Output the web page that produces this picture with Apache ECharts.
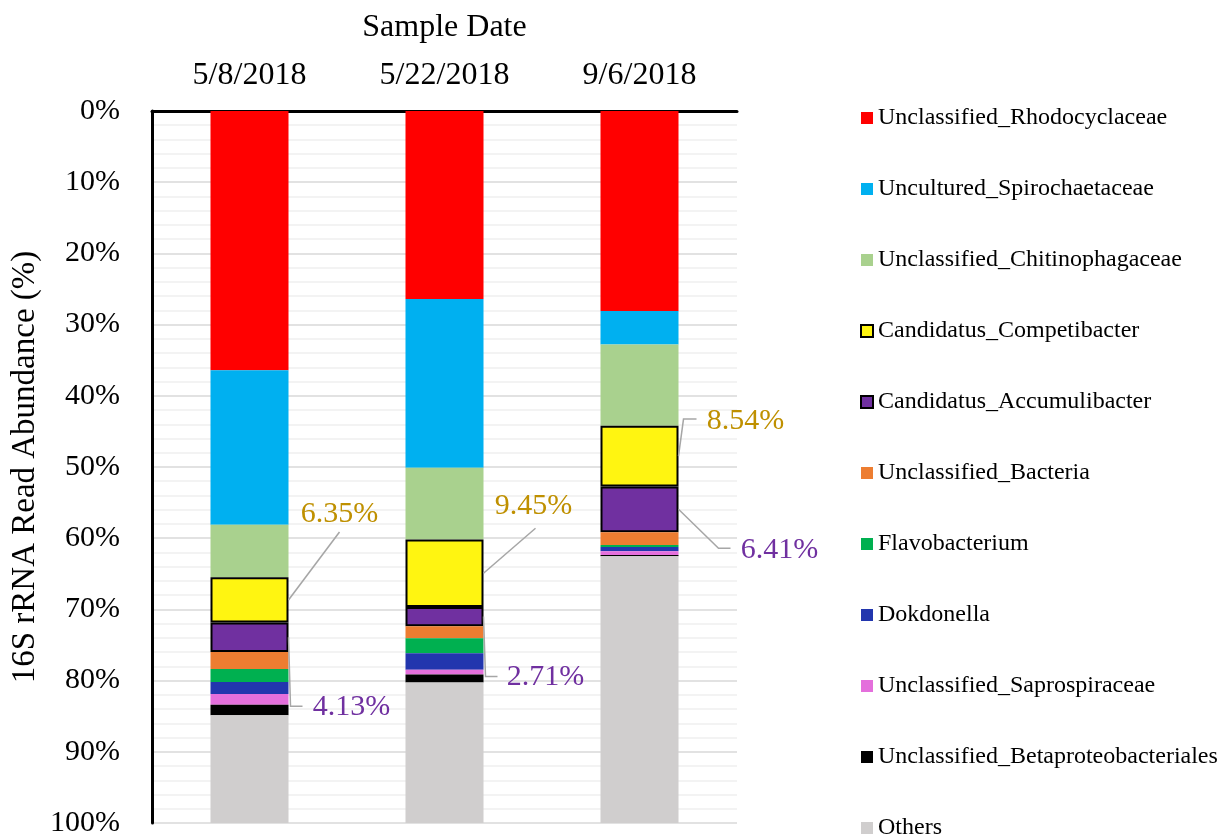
<!DOCTYPE html>
<html>
<head>
<meta charset="utf-8">
<script src="https://cdn.jsdelivr.net/npm/echarts@6/dist/echarts.min.js"></script>
<style>
  html, body { margin: 0; padding: 0; background: #fff; }
  #chart { width: 1226px; height: 839px; }
</style>
</head>
<body>
<div id="chart"></div>
<script>
const dates = ['5/8/2018', '5/22/2018', '9/6/2018'];

const taxa = [
  'Unclassified_Rhodocyclaceae',
  'Uncultured_Spirochaetaceae',
  'Unclassified_Chitinophagaceae',
  'Candidatus_Competibacter',
  'Candidatus_Accumulibacter',
  'Unclassified_Bacteria',
  'Flavobacterium',
  'Dokdonella',
  'Unclassified_Saprospiraceae',
  'Unclassified_Betaproteobacteriales',
  'Others'
];

// abundance (%) per taxon, one value per sample date
const rhodocyclaceae = [36.4, 26.4, 28.1];
const spirochaetaceae = [21.7, 23.7, 4.7];
const chitinophagaceae = [7.4, 10.1, 11.4];
const competibacter = [6.35, 9.45, 8.54];
const accumulibacter = [4.13, 2.71, 6.41];
const bacteria = [2.4, 1.7, 1.8];
const flavobacterium = [1.8, 2.1, 0.3];
const dokdonella = [1.7, 2.3, 0.6];
const saprospiraceae = [1.5, 0.7, 0.5];
const betaproteobacteriales = [1.5, 1.1, 0.2];
const others = [15.12, 19.74, 37.45];

const values = [rhodocyclaceae, spirochaetaceae, chitinophagaceae, competibacter,
  accumulibacter, bacteria, flavobacterium, dokdonella, saprospiraceae,
  betaproteobacteriales, others];

const colors = ['#FF0000', '#00B0F0', '#A9D18E', '#FFF511', '#7030A0', '#ED7D31',
  '#00B050', '#2236AE', '#E46FDC', '#000000', '#D0CECE'];

const serif = 'Liberation Serif, Times New Roman, serif';

// taxa that get a data label, with label colour
const labelled = [3, 4];
const labelColors = { 3: '#BF9000', 4: '#7030A0' };
// label placement: [dx from bar right, dy from segment middle, elbow x from bar right (null = straight), end dx, end dy from label centre]
const labelPos = {
  3: [[51, -86, null, 0, 18], [50, -67, null, 2, 22], [67, -35, 5, -49, -2]],
  4: [[63, 70, 2, -49, -1], [62, 61, 2, -48, -1], [101, 41, 40, -49, -2]]
};

const series = taxa.map((name, i) => ({
  name: name,
  type: 'bar',
  stack: 'total',
  barWidth: '40%',
  itemStyle: labelled.includes(i)
    ? { color: colors[i], borderColor: '#000', borderWidth: 2 }
    : { color: colors[i] },
  data: values[i]
}));

// segment ranges of the labelled taxa, for the leader lines and labels
const leaders = [];
labelled.forEach(t => {
  dates.forEach((d, j) => {
    let start = 0;
    for (let k = 0; k < t; k++) start += values[k][j];
    leaders.push({ value: [j, start, start + values[t][j]], taxon: t, col: j });
  });
});

series.push({
  type: 'custom',
  name: 'labels',
  z: 10,
  encode: { x: 0, y: [1, 2] },
  data: leaders.map(l => l.value),
  renderItem: (params, api) => {
    const l = leaders[params.dataIndex];
    const o = labelPos[l.taxon][l.col];
    const top = api.coord([api.value(0), api.value(1)]);
    const bot = api.coord([api.value(0), api.value(2)]);
    const band = api.size([1, 0])[0];
    const right = top[0] + band * 0.2;
    const midY = (top[1] + bot[1]) / 2;
    const cx = right + o[0];
    const cy = midY + o[1];
    const end = [cx + o[3], cy + o[4]];
    const elbow = o[2] == null
      ? [(right + end[0]) / 2, (midY + end[1]) / 2]
      : [right + o[2], end[1]];
    return {
      type: 'group',
      children: [
        {
          type: 'polyline',
          shape: { points: [[right, midY], elbow, end] },
          style: { stroke: '#A6A6A6', lineWidth: 1.5, fill: null }
        },
        {
          type: 'text',
          style: {
            text: values[l.taxon][l.col].toFixed(2) + '%',
            x: cx,
            y: cy,
            fill: labelColors[l.taxon],
            fontFamily: serif,
            fontSize: 30,
            align: 'center',
            verticalAlign: 'middle'
          }
        }
      ]
    };
  }
});

const chart = echarts.init(document.getElementById('chart'));
chart.setOption({
  animation: false,
  backgroundColor: '#fff',
  grid: { left: 152, right: 489, top: 111, bottom: 16, outerBoundsMode: 'none' },
  legend: {
    orient: 'vertical',
    left: 860,
    top: 106,
    height: 745,
    padding: 0,
    itemWidth: 12,
    itemHeight: 12,
    itemGap: 47,
    icon: 'rect',
    data: taxa,
    textStyle: { fontFamily: serif, fontSize: 24, color: '#000' }
  },
  xAxis: {
    type: 'category',
    position: 'top',
    data: dates,
    name: 'Sample Date',
    nameLocation: 'middle',
    nameGap: 67,
    nameTextStyle: { fontFamily: serif, fontSize: 32, color: '#000' },
    axisLine: { show: true, lineStyle: { color: '#000', width: 3 } },
    axisTick: { show: false },
    axisLabel: { fontFamily: serif, fontSize: 32, color: '#000', margin: 19 }
  },
  yAxis: {
    type: 'value',
    inverse: true,
    min: 0,
    max: 100,
    interval: 10,
    name: '16S rRNA Read Abundance (%)',
    nameLocation: 'middle',
    nameGap: 110,
    nameRotate: 90,
    nameTextStyle: { fontFamily: serif, fontSize: 33, color: '#000' },
    axisLine: { show: true, lineStyle: { color: '#000', width: 3 } },
    axisTick: { show: false },
    axisLabel: { formatter: '{value}%', fontFamily: serif, fontSize: 30, color: '#000', margin: 32 },
    splitLine: { show: true, lineStyle: { color: '#D9D9D9', width: 1.5 } },
    minorTick: { show: false, splitNumber: 5 },
    minorSplitLine: { show: true, lineStyle: { color: '#F0F0F0', width: 1.5 } }
  },
  series: series
});
</script>
</body>
</html>
